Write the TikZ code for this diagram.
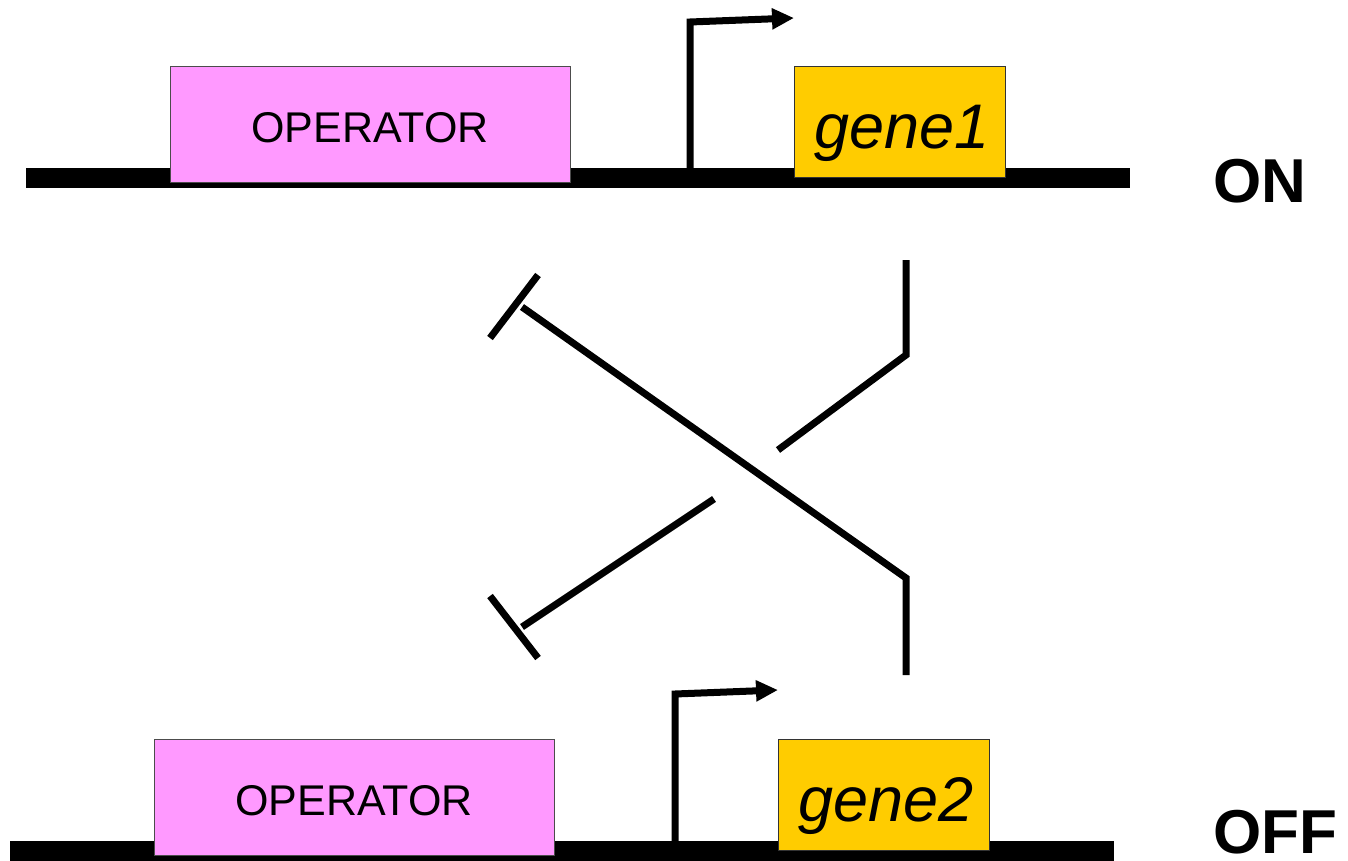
\documentclass[tikz,border=0pt]{standalone}
\usepackage{fontspec}
\setmainfont{Liberation Sans}
\usetikzlibrary{arrows.meta}
\definecolor{oppink}{HTML}{FF99FF}
\definecolor{geneyel}{HTML}{FFCC00}
\begin{document}
\begin{tikzpicture}[x=1pt,y=-1pt,
  dna/.style={line width=20pt},
  opbox/.style={draw=black!70,line width=1pt,fill=oppink,minimum width=400pt,minimum height=116pt,inner sep=0pt},
  optext/.style={font=\fontsize{43}{43}\selectfont,inner sep=0pt,anchor=base},
  genebox/.style={draw=black!80,line width=1pt,fill=geneyel,minimum width=211pt,minimum height=111pt,inner sep=0pt},
  genetext/.style={font=\fontsize{63}{63}\selectfont\itshape,inner sep=0pt,anchor=base},
  prom/.style={line width=7pt,-{Triangle[length=22pt,width=20pt]}},
  wire/.style={line width=7pt},
  state/.style={font=\fontsize{62}{62}\selectfont\bfseries,inner sep=0pt,anchor=base west}]
\useasboundingbox (0,0) rectangle (1348,861);
% top DNA
\coordinate (d1a) at (26,178.5);
\coordinate (d1b) at (1130,178.5);
\draw[dna] (d1a) -- (d1b);
\node[opbox] (op1) at (370,125) {};
\node[optext] (op1t) at (370,143) {OPERATOR};
\node[genebox] (g1) at (899.5,122.5) {};
\node[genetext] (g1t) at (902,149) {gene1};
\coordinate (p1a) at (690,170);
\coordinate (p1b) at (690,22);
\coordinate (p1c) at (794,18);
\draw[prom] (p1a) -- (p1b) -- (p1c);
\node[state] (on) at (1213,203) {ON};
% bottom DNA
\coordinate (d2a) at (10,851);
\coordinate (d2b) at (1114,851);
\draw[dna] (d2a) -- (d2b);
\node[opbox] (op2) at (354,797) {};
\node[optext] (op2t) at (354,815) {OPERATOR};
\node[genebox] (g2) at (883.5,794.5) {};
\node[genetext] (g2t) at (886,821) {gene2};
\coordinate (p2a) at (675,843);
\coordinate (p2b) at (675,694);
\coordinate (p2c) at (778,690);
\draw[prom] (p2a) -- (p2b) -- (p2c);
\node[state] (off) at (1213,853) {OFF};
% repression from gene2 to operator1
\coordinate (r1a) at (906,675);
\coordinate (r1b) at (906,578);
\coordinate (r1c) at (522,307);
\coordinate (t1a) at (490,338);
\coordinate (t1b) at (538,275);
\draw[wire] (r1a) -- (r1b) -- (r1c);
\draw[wire] (t1a) -- (t1b);
% repression from gene1 to operator2
\coordinate (r2a) at (906,260);
\coordinate (r2b) at (906,355);
\coordinate (r2c) at (778,450);
\coordinate (r2d) at (714,499);
\coordinate (r2e) at (522,627);
\coordinate (t2a) at (490,596);
\coordinate (t2b) at (538,658);
\draw[wire] (r2a) -- (r2b) -- (r2c);
\draw[wire] (r2d) -- (r2e);
\draw[wire] (t2a) -- (t2b);
\end{tikzpicture}
\end{document}
